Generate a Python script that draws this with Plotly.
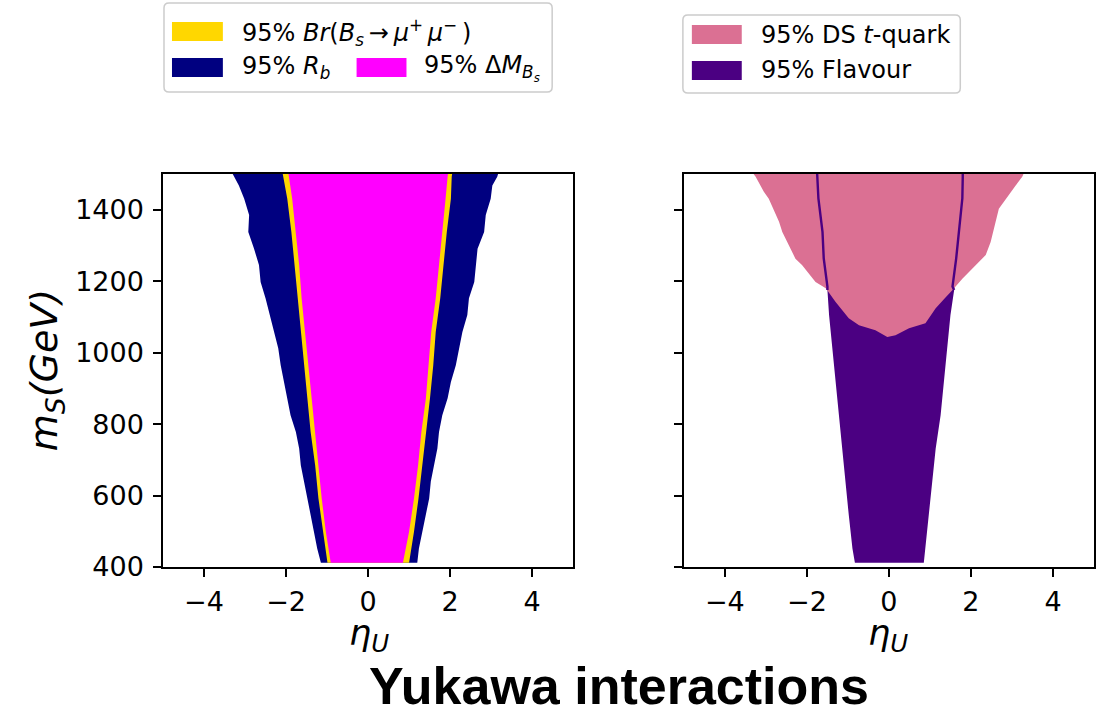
import numpy as np
import plotly.graph_objects as go

# ---------------- data: 95% allowed regions, eta_U versus m_S (GeV) ----------------
# Left panel: R_b band (outer)
m_rb = [412, 452, 499, 545, 592, 639, 685, 732, 778, 825, 872, 918, 965, 1012,
        1058, 1105, 1152, 1198, 1245, 1291, 1338, 1385, 1431, 1468, 1492, 1500]
rb_left = [-1.15, -1.24, -1.32, -1.40, -1.48, -1.56, -1.64, -1.68, -1.76, -1.89,
           -1.97, -2.05, -2.13, -2.19, -2.29, -2.41, -2.50, -2.62, -2.66, -2.78,
           -2.92, -2.90, -3.02, -3.15, -3.27, -3.30]
rb_right = [1.20, 1.24, 1.33, 1.41, 1.49, 1.53, 1.61, 1.69, 1.73, 1.81, 1.94, 2.02,
            2.14, 2.22, 2.30, 2.42, 2.46, 2.59, 2.63, 2.67, 2.83, 2.87, 2.99, 3.03,
            3.15, 3.17]

# Left panel: Br(Bs -> mu mu) and Delta M_Bs
m_br = [412, 499, 592, 685, 778, 872, 965, 1058, 1152, 1245, 1338, 1431, 1492, 1500]
br_left = [-0.99, -1.09, -1.21, -1.29, -1.40, -1.48, -1.56, -1.64, -1.72, -1.79,
           -1.87, -1.97, -2.07, -2.08]
br_right = [1.00, 1.12, 1.23, 1.33, 1.42, 1.51, 1.59, 1.65, 1.76, 1.84, 1.92, 2.02,
            2.04, 2.05]
dm_left = [-0.91, -1.03, -1.13, -1.21, -1.30, -1.38, -1.46, -1.54, -1.62, -1.68,
           -1.76, -1.85, -1.93, -1.94]
dm_right = [0.85, 1.00, 1.12, 1.22, 1.30, 1.41, 1.47, 1.54, 1.65, 1.73, 1.81, 1.89,
            1.94, 1.95]

# Right panel: combined flavour constraint
m_fl = [412, 452, 546, 639, 732, 825, 918, 1012, 1105, 1175, 1185, 1264, 1338,
        1432, 1492, 1500]
fl_left = [-0.83, -0.89, -0.98, -1.06, -1.14, -1.22, -1.30, -1.38, -1.46, -1.50,
           -1.50, -1.59, -1.62, -1.72, -1.75, -1.75]
fl_right = [0.85, 0.89, 0.98, 1.06, 1.14, 1.26, 1.34, 1.42, 1.50, 1.59, 1.55, 1.64,
            1.71, 1.79, 1.80, 1.80]

# Right panel: direct-search (t-quark) region
ds_lower_eta = [-1.54, -1.30, -0.98, -0.73, -0.33, -0.04, 0.16, 0.49, 0.89, 1.14, 1.39, 1.55]
ds_lower_m = [1180, 1142, 1096, 1077, 1063, 1044, 1049, 1068, 1082, 1124, 1156, 1175]
ds_right_eta = [1.55, 1.79, 2.03, 2.36, 2.48, 2.56, 2.68, 3.09, 3.25, 3.28]
ds_right_m = [1175, 1207, 1235, 1273, 1310, 1347, 1403, 1468, 1492, 1500]
ds_left_eta = [-1.54, -1.79, -2.12, -2.28, -2.40, -2.60, -2.68, -2.93, -3.05, -3.25, -3.30]
ds_left_m = [1180, 1198, 1245, 1263, 1291, 1338, 1366, 1431, 1450, 1492, 1500]

x_ticks = [-4, -2, 0, 2, 4]
x_tick_text = ["\u22124", "\u22122", "0", "2", "4"]
y_ticks = [400, 600, 800, 1000, 1200, 1400]

NAVY = "#000080"
GOLD = "#FFD700"
MAGENTA = "#FF00FF"
PINK = "#DB7093"
INDIGO = "#4B0082"

W, H = 1104, 718
ML, MR, MT, MB = 163, 8, 174, 151
PW, PH = W - ML - MR, H - MT - MB


def band(left, right, m):
    """Closed outline of a band between a left and a right edge."""
    xs = list(left) + list(right)[::-1] + [left[0]]
    ys = list(m) + list(m)[::-1] + [m[0]]
    return xs, ys


def area(xs, ys, color, xa, ya):
    return go.Scatter(x=xs, y=ys, mode="lines", fill="toself", fillcolor=color,
                      line=dict(width=0, color=color), xaxis=xa, yaxis=ya,
                      hoverinfo="skip", showlegend=False)


fig = go.Figure()

# left panel
fig.add_trace(area(*band(rb_left, rb_right, m_rb), NAVY, "x", "y"))
fig.add_trace(area(*band(br_left, br_right, m_br), GOLD, "x", "y"))
fig.add_trace(area(*band(dm_left, dm_right, m_br), MAGENTA, "x", "y"))

# right panel
fig.add_trace(area(*band(fl_left, fl_right, m_fl), INDIGO, "x2", "y2"))
ds_x = ds_lower_eta + ds_right_eta + ds_left_eta[::-1]
ds_y = ds_lower_m + ds_right_m + ds_left_m[::-1]
fig.add_trace(area(ds_x, ds_y, PINK, "x2", "y2"))

m_arr = np.array(m_fl)
upper = m_arr >= 1175
for edge in (fl_left, fl_right):
    fig.add_trace(go.Scatter(x=np.array(edge)[upper], y=m_arr[upper], mode="lines",
                             line=dict(color=INDIGO, width=2.4), xaxis="x2", yaxis="y2",
                             hoverinfo="skip", showlegend=False))

FONT = "DejaVu Sans"
TICK_SIZE = 27
axis_common = dict(range=[-5, 5], tickvals=x_ticks, ticktext=x_tick_text,
                   showline=True, mirror=True, linecolor="black", linewidth=1.5,
                   ticks="outside", ticklen=8, tickwidth=1.5, tickcolor="black",
                   showgrid=False, zeroline=False, ticklabelstandoff=2,
                   tickfont=dict(family=FONT, size=TICK_SIZE, color="black"))
yaxis_common = dict(range=[400, 1500], tickvals=y_ticks,
                    showline=True, mirror=True, linecolor="black", linewidth=1.5,
                    ticks="outside", ticklen=8, tickwidth=1.5, tickcolor="black",
                    showgrid=False, zeroline=False, ticklabelstandoff=4,
                    tickfont=dict(family=FONT, size=TICK_SIZE, color="black"))

left_end = (574 - ML) / PW
right_start = (685 - ML) / PW

fig.update_layout(
    width=W, height=H,
    margin=dict(l=ML, r=MR, t=MT, b=MB, pad=0),
    paper_bgcolor="white", plot_bgcolor="white",
    showlegend=False,
    xaxis=dict(domain=[0, left_end], anchor="y", **axis_common),
    yaxis=dict(domain=[0, 1], anchor="x", **yaxis_common),
    xaxis2=dict(domain=[right_start, 1], anchor="y2", **axis_common),
    yaxis2=dict(domain=[0, 1], anchor="x2", matches="y", showticklabels=False,
                **{k: v for k, v in yaxis_common.items() if k != "tickfont"}),
)


def px(x):
    return (x - ML) / PW


def py(y):
    return (H - MB - y) / PH


annotations = []
shapes = []

# axis titles
for cx in (369, 890):
    annotations.append(dict(x=px(cx), y=py(635), xref="paper", yref="paper",
                            text="<i>\u03b7</i><sub><i>U</i></sub>", showarrow=False,
                            xanchor="center", yanchor="middle",
                            font=dict(family=FONT, size=35, color="black")))
annotations.append(dict(x=px(46), y=py(370), xref="paper", yref="paper",
                        text="<i>m</i><sub><i>S</i></sub><i>(GeV)</i>", showarrow=False,
                        textangle=-90, xanchor="center", yanchor="middle",
                        font=dict(family=FONT, size=38, color="black")))
# bottom title
annotations.append(dict(x=px(620), y=py(717), xref="paper", yref="paper",
                        text="<b>Yukawa interactions</b>", showarrow=False,
                        xanchor="center", yanchor="bottom",
                        font=dict(family="Liberation Sans", size=52, color="black")))


def rounded_box(x0, y0, x1, y1, r=5):
    # pixel rectangle with rounded corners, expressed in paper coordinates
    pts = (f"M {px(x0 + r)},{py(y0)} L {px(x1 - r)},{py(y0)} "
           f"Q {px(x1)},{py(y0)} {px(x1)},{py(y0 + r)} "
           f"L {px(x1)},{py(y1 - r)} Q {px(x1)},{py(y1)} {px(x1 - r)},{py(y1)} "
           f"L {px(x0 + r)},{py(y1)} Q {px(x0)},{py(y1)} {px(x0)},{py(y1 - r)} "
           f"L {px(x0)},{py(y0 + r)} Q {px(x0)},{py(y0)} {px(x0 + r)},{py(y0)} Z")
    return dict(type="path", path=pts, xref="paper", yref="paper",
                line=dict(color="#cccccc", width=1.5), fillcolor="white", layer="above")


def swatch(x0, y0, x1, y1, color):
    return dict(type="rect", xref="paper", yref="paper", x0=px(x0), x1=px(x1),
                y0=py(y1), y1=py(y0), fillcolor=color, line=dict(width=0), layer="above")


def label(x, y, text):
    return dict(x=px(x), y=py(y), xref="paper", yref="paper", text=text,
                showarrow=False, xanchor="left", yanchor="middle",
                font=dict(family=FONT, size=24, color="black"))


# legend of the left panel
shapes.append(rounded_box(164, 3, 553, 92))
shapes.append(swatch(172, 22, 223, 41, GOLD))
shapes.append(swatch(172, 58, 223, 77, NAVY))
shapes.append(swatch(357, 58, 407, 77, MAGENTA))
annotations.append(label(240, 32, "95% <i>Br</i>(<i>B</i><sub><i>s</i></sub>\u2009\u2192\u2009<i>\u03bc</i>"
                                  "<sup>+</sup>\u2009<i>\u03bc</i><sup>\u2212</sup>\u2009)"))
annotations.append(label(240, 68, "95% <i>R</i><sub><i>b</i></sub>"))
annotations.append(label(423, 68, "95% \u0394<i>M</i><sub><i>B</i><sub><i>s</i></sub></sub>"))

# legend of the right panel
shapes.append(rounded_box(684, 15, 962, 93))
shapes.append(swatch(693, 25, 743, 44, PINK))
shapes.append(swatch(693, 61, 743, 80, INDIGO))
annotations.append(label(760, 35, "95% DS <i>t</i>-quark"))
annotations.append(label(760, 70, "95% Flavour"))

fig.update_layout(annotations=annotations, shapes=shapes)

fig.write_html("out.html")
